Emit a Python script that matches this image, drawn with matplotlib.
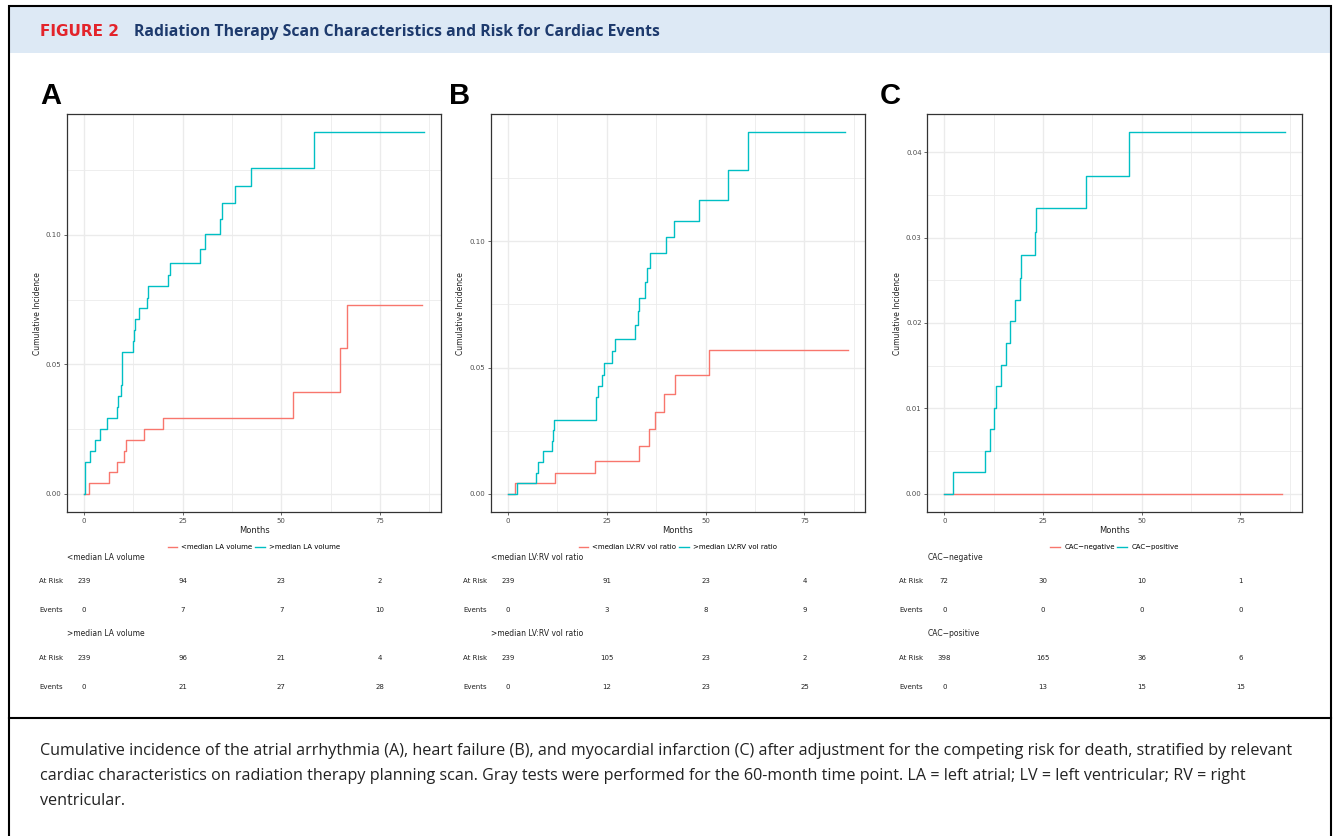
import matplotlib
matplotlib.use("Agg")
import matplotlib.pyplot as plt
import matplotlib.transforms as mtransforms
from matplotlib.patches import Rectangle
from matplotlib.lines import Line2D

W, H = 1336, 836
RED = "#F8766D"
TEAL = "#00BFC4"

# ---- data ----
# panel A: atrial arrhythmia by LA volume
a_low_t = [0, 1.35, 6.4, 8.3, 10.05, 10.6, 15.2, 20.1, 53.0, 64.8, 66.6, 85.6]
a_low_y = [0, 0.0041, 0.0084, 0.0125, 0.0167, 0.0210, 0.0251, 0.0294, 0.0392, 0.0562, 0.0731, 0.0731]
a_high_t = [0, 0.15, 0.3, 1.6, 2.7, 4.05, 5.9, 8.45, 8.7, 9.4, 9.6, 9.7, 12.3, 12.6, 13.0, 14.0,
            16.0, 16.3, 21.2, 21.8, 29.3, 30.7, 34.6, 35.0, 38.3, 42.3, 58.4, 86.2]
a_high_y = [0, 0.0042, 0.0125, 0.0167, 0.0210, 0.0252, 0.0294, 0.0335, 0.0379, 0.0420, 0.0505, 0.0548,
            0.0590, 0.0632, 0.0675, 0.0717, 0.0758, 0.0801, 0.0846, 0.0892, 0.0946, 0.1003, 0.1063,
            0.1125, 0.1190, 0.1260, 0.1396, 0.1396]

# panel B: heart failure by LV:RV volume ratio
b_low_t = [0, 1.9, 11.9, 22.1, 33.2, 35.6, 37.3, 39.4, 42.2, 50.8, 86.0]
b_low_y = [0, 0.0042, 0.0083, 0.0132, 0.0191, 0.0257, 0.0323, 0.0394, 0.0470, 0.0570, 0.0570]
b_high_t = [0, 2.3, 7.1, 7.7, 9.0, 11.2, 11.5, 11.8, 22.4, 22.9, 23.8, 24.3, 26.3, 27.1, 32.1, 33.0,
            33.2, 34.8, 35.1, 35.9, 40.1, 42.1, 48.4, 55.7, 60.7, 85.3]
b_high_y = [0, 0.0042, 0.0083, 0.0126, 0.0169, 0.0209, 0.0252, 0.0294, 0.0382, 0.0426, 0.0472, 0.0518,
            0.0567, 0.0615, 0.0668, 0.0723, 0.0777, 0.0837, 0.0893, 0.0953, 0.1016, 0.1080, 0.1165,
            0.1281, 0.1431, 0.1431]

# panel C: myocardial infarction by CAC
c_neg_t = [0, 85.6]
c_neg_y = [0, 0]
c_pos_t = [0, 2.1, 10.2, 11.6, 12.6, 13.0, 14.3, 15.5, 16.6, 17.8, 19.2, 19.5, 22.9, 23.1, 35.8, 46.7, 86.2]
c_pos_y = [0, 0.00253, 0.00502, 0.00755, 0.01008, 0.01261, 0.01514, 0.01767, 0.0202, 0.0227, 0.0253,
           0.0280, 0.0307, 0.0335, 0.0372, 0.0423, 0.0423]

table_months = [0, 25, 50, 75]

a_groups = ["<median LA volume", ">median LA volume"]
a_risk = [[239, 94, 23, 2], [239, 96, 21, 4]]
a_events = [[0, 7, 7, 10], [0, 21, 27, 28]]

b_groups = ["<median LV:RV vol ratio", ">median LV:RV vol ratio"]
b_risk = [[239, 91, 23, 4], [239, 105, 23, 2]]
b_events = [[0, 3, 8, 9], [0, 12, 23, 25]]

c_groups = ["CAC\u2212negative", "CAC\u2212positive"]
c_risk = [[72, 30, 10, 1], [398, 165, 36, 6]]
c_events = [[0, 0, 0, 0], [0, 13, 15, 15]]

y_ticks_ab = [0.00, 0.05, 0.10]
y_ticks_c = [0.00, 0.01, 0.02, 0.03, 0.04]

caption_lines = [
    "Cumulative incidence of the atrial arrhythmia (A), heart failure (B), and myocardial infarction (C) "
    "after adjustment for the competing risk for death, stratified by relevant",
    "cardiac characteristics on radiation therapy planning scan. Gray tests were performed for the "
    "60-month time point. LA = left atrial; LV = left ventricular; RV = right",
    "ventricular.",
]


fig = plt.figure(figsize=(W / 100, H / 100), dpi=100)


def fx(px):
    return px / W


def fy(py):
    return 1 - py / H


# frame, header band, separator
fig.patches.append(Rectangle((fx(8.5), fy(53)), fx(1331 - 8.5), (53 - 6) / H,
                             transform=fig.transFigure, facecolor="#dde9f5", edgecolor="none", zorder=0))
fig.patches.append(Rectangle((fx(8.5), fy(850)), fx(1331 - 8.5), (850 - 6) / H,
                             transform=fig.transFigure, facecolor="none", edgecolor="black", lw=1.5, zorder=5))
fig.lines.append(Line2D([fx(8.5), fx(1331)], [fy(718), fy(718)], transform=fig.transFigure,
                        color="black", lw=1.5))

fig.text(fx(40), fy(31.5), "FIGURE 2", color="#e3242b", fontsize=11, fontweight="bold",
         family="DejaVu Sans", va="center", ha="left")
fig.text(fx(134), fy(31.5), "Radiation Therapy Scan Characteristics and Risk for Cardiac Events",
         color="#1d3a6d", fontsize=11.3, fontweight="bold", family="Open Sans", va="center", ha="left")

for k, line in enumerate(caption_lines):
    fig.text(fx(40), fy(755 + 25 * k), line, fontsize=11.6, family="Open Sans", va="baseline",
             ha="left", color="#222222")

panels = [
    ("A", 67, 441, a_low_t, a_low_y, a_high_t, a_high_y, a_groups, a_risk, a_events, y_ticks_ab),
    ("B", 490.7, 865, b_low_t, b_low_y, b_high_t, b_high_y, b_groups, b_risk, b_events, y_ticks_ab),
    ("C", 927.3, 1301.7, c_neg_t, c_neg_y, c_pos_t, c_pos_y, c_groups, c_risk, c_events, y_ticks_c),
]
letter_x = [40, 449, 880]

top, bottom = 114.3, 512
for i, (letter, x0, x1, t1, y1, t2, y2, groups, risk, events, yt) in enumerate(panels):
    ax = fig.add_axes([fx(x0), fy(bottom), fx(x1 - x0), (bottom - top) / H])
    ax.step(t1, y1, where="post", color=RED, lw=1.0, label=groups[0])
    ax.step(t2, y2, where="post", color=TEAL, lw=1.0, label=groups[1])

    tmax = max(t1[-1], t2[-1])
    ymax = max(max(y1), max(y2))
    ax.set_xlim(-0.05 * tmax, tmax * 1.05)
    ax.set_ylim(-0.05 * ymax, ymax * 1.05)
    ax.set_xticks(table_months)
    ax.set_xticks([12.5, 37.5, 62.5, 87.5], minor=True)
    ax.set_yticks(yt)
    step = yt[1] - yt[0]
    ax.set_yticks([v + step / 2 for v in yt if v + step / 2 < ymax * 1.05], minor=True)
    ax.set_yticklabels(["%.2f" % v for v in yt])
    ax.grid(True, which="major", color="#EBEBEB", lw=1.0)
    ax.grid(True, which="minor", color="#EBEBEB", lw=0.6)
    ax.set_axisbelow(True)
    ax.tick_params(which="major", labelsize=5, colors="#4D4D4D", length=2.5, width=0.6, pad=1.5)
    ax.tick_params(which="minor", length=0)
    for s in ax.spines.values():
        s.set_color("#333333")
        s.set_linewidth(0.9)
    ax.set_xlabel("Months", fontsize=6, labelpad=1.5, color="#222222")
    ax.set_ylabel("Cumulative Incidence", fontsize=5.5, labelpad=3, color="#222222")

    fig.text(fx(letter_x[i]), fy(96), letter, fontsize=21, fontweight="bold",
             family="Liberation Sans", va="center", ha="left")

    ax.legend(loc="center", bbox_to_anchor=(0.5, fy(547)), bbox_transform=mtransforms.blended_transform_factory(
        ax.transAxes, fig.transFigure), ncol=2, frameon=False, fontsize=5, handlelength=1.4,
        handletextpad=0.6, columnspacing=0.4)

    tr = mtransforms.blended_transform_factory(ax.transData, fig.transFigure)
    rows = [(557, 581, 610), (634, 658, 687)]
    for g, (yh, yr, ye) in enumerate(rows):
        fig.text(fx(x0), fy(yh), groups[g], fontsize=5.5, va="center", ha="left", color="#222222")
        fig.text(fx(x0 - 4), fy(yr), "At Risk", fontsize=5, va="center", ha="right", color="#222222")
        fig.text(fx(x0 - 4), fy(ye), "Events", fontsize=5, va="center", ha="right", color="#222222")
        for m, r, e in zip(table_months, risk[g], events[g]):
            ax.text(m, fy(yr), str(r), transform=tr, fontsize=5, va="center", ha="center", color="#222222")
            ax.text(m, fy(ye), str(e), transform=tr, fontsize=5, va="center", ha="center", color="#222222")

fig.savefig("out.png", dpi=100)
